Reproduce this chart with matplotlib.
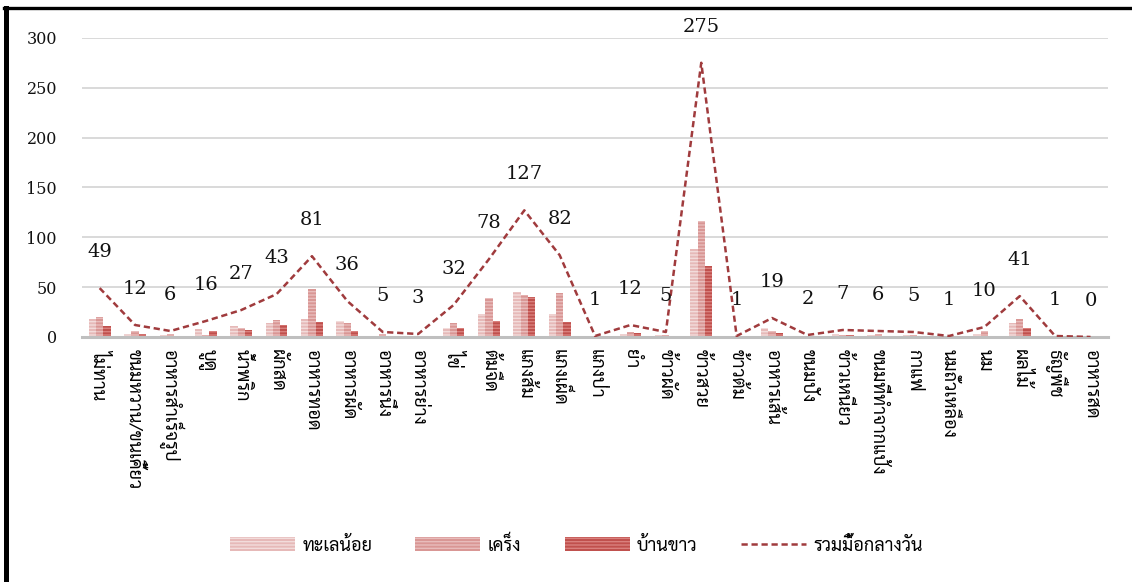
import numpy as np
import matplotlib
matplotlib.use("Agg")
import matplotlib.pyplot as plt
from matplotlib.patches import Patch
from matplotlib.lines import Line2D

# lunch menu counts by area
foods = ['ไม่ทาน', 'ขนมหวาน/ขนเคี้ยว', 'อาหารสำเร็จรูป', 'บูดู', 'น้ำพริก', 'ผักสด',
         'อาหารทอด', 'อาหารผัด', 'อาหารนึ่ง', 'อาหารย่าง', 'ไข่', 'ต้มจืด', 'แกงส้ม',
         'แกงเผ็ด', 'แกงป่า', 'ยำ', 'ข้าวผัด', 'ข้าวสวย', 'ข้าวต้ม', 'อาหารเส้น',
         'ขนมปัง', 'ข้าวเหนียว', 'ขนมที่ทำจากแป้ง', 'กาแฟ', 'นมถั่วเหลือง', 'นม',
         'ผลไม้', 'ธัญพืช', 'อาหารสด']
talenoi = [18, 3, 2, 8, 11, 14, 18, 16, 1, 1, 9, 23, 45, 23, 0, 3, 2, 88, 1, 9,
           1, 3, 2, 2, 1, 3, 14, 0, 0]
kreng = [20, 6, 3, 2, 9, 17, 48, 14, 3, 1, 14, 39, 42, 44, 1, 5, 2, 116, 0, 6,
         1, 2, 3, 2, 0, 6, 18, 1, 0]
bankhao = [11, 3, 1, 6, 7, 12, 15, 6, 1, 1, 9, 16, 40, 15, 0, 4, 1, 71, 0, 4,
           0, 2, 1, 1, 0, 1, 9, 0, 0]
total = [49, 12, 6, 16, 27, 43, 81, 36, 5, 3, 32, 78, 127, 82, 1, 12, 5, 275, 1, 19,
         2, 7, 6, 5, 1, 10, 41, 1, 0]
series_names = ['ทะเลน้อย', 'เคร็ง', 'บ้านขาว', 'รวมมื้อกลางวัน']

thai = ['Sarabun', 'DejaVu Sans']
serif = 'DejaVu Serif'

bar_cols = ['#e6b9b8', '#d99694', '#c0504d']
hatch_cols = ['#f2dcdb', '#e8bcbb', '#d9807d']
line_col = '#a03b3d'

fig = plt.figure(figsize=(11.32, 5.82), dpi=100)
ax = fig.add_axes([0.0724, 0.421, 0.9066, 0.514])

x = np.arange(len(foods))
w = 0.205
plt.rcParams['hatch.linewidth'] = 1.0
for i, vals in enumerate([talenoi, kreng, bankhao]):
    ax.bar(x + (i - 1) * w, vals, width=w, color=bar_cols[i], edgecolor=hatch_cols[i],
           linewidth=0, hatch='-----', zorder=2)

ln, = ax.plot(x, total, color=line_col, lw=1.8, zorder=3)
ln.set_dashes([2.5, 1.5])

for xi, t in zip(x, total):
    ax.annotate(str(t), (xi, t), xytext=(0, 26), textcoords='offset points',
                ha='center', va='center', fontsize=14, family=serif, color='#111111')

ax.set_xlim(-0.5, len(foods) - 0.5)
ax.set_ylim(0, 300)
ax.set_yticks([0, 50, 100, 150, 200, 250, 300])
ax.yaxis.grid(True, color='#d9d9d9', lw=1.4, zorder=0)
ax.set_axisbelow(True)
for s in ['left', 'right', 'top']:
    ax.spines[s].set_visible(False)
ax.spines['bottom'].set_color('#bfbfbf')
ax.spines['bottom'].set_linewidth(2.2)
ax.tick_params(axis='both', length=0)
ax.tick_params(axis='y', pad=18)
for lab in ax.get_yticklabels():
    lab.set_family(serif)
    lab.set_fontsize(11.5)
    lab.set_color('#111111')
ax.set_xticks(x)
ax.set_xticklabels(foods, rotation=-90, ha='center', va='top', family=thai, fontsize=13)
ax.tick_params(axis='x', pad=9)

handles = [Patch(facecolor=bar_cols[i], edgecolor=hatch_cols[i], hatch='-----', linewidth=0)
           for i in range(3)]
lh = Line2D([], [], color=line_col, lw=1.8)
lh.set_dashes([2.5, 1.5])
handles.append(lh)
leg = fig.legend(handles, series_names, loc='center', bbox_to_anchor=(0.509, 0.0636),
                 ncol=4, frameon=False, prop={'family': thai, 'size': 13},
                 handlelength=3.6, handleheight=0.8, columnspacing=2.4, handletextpad=0.4)

# outer frame (left and top only)
fig.add_artist(Line2D([0.0057, 0.0057], [0, 0.9854], transform=fig.transFigure,
                      color='black', lw=3.6))
fig.add_artist(Line2D([0.0035, 1], [0.9854, 0.9854], transform=fig.transFigure,
                      color='black', lw=2.4))

fig.savefig('out.png', dpi=100)
